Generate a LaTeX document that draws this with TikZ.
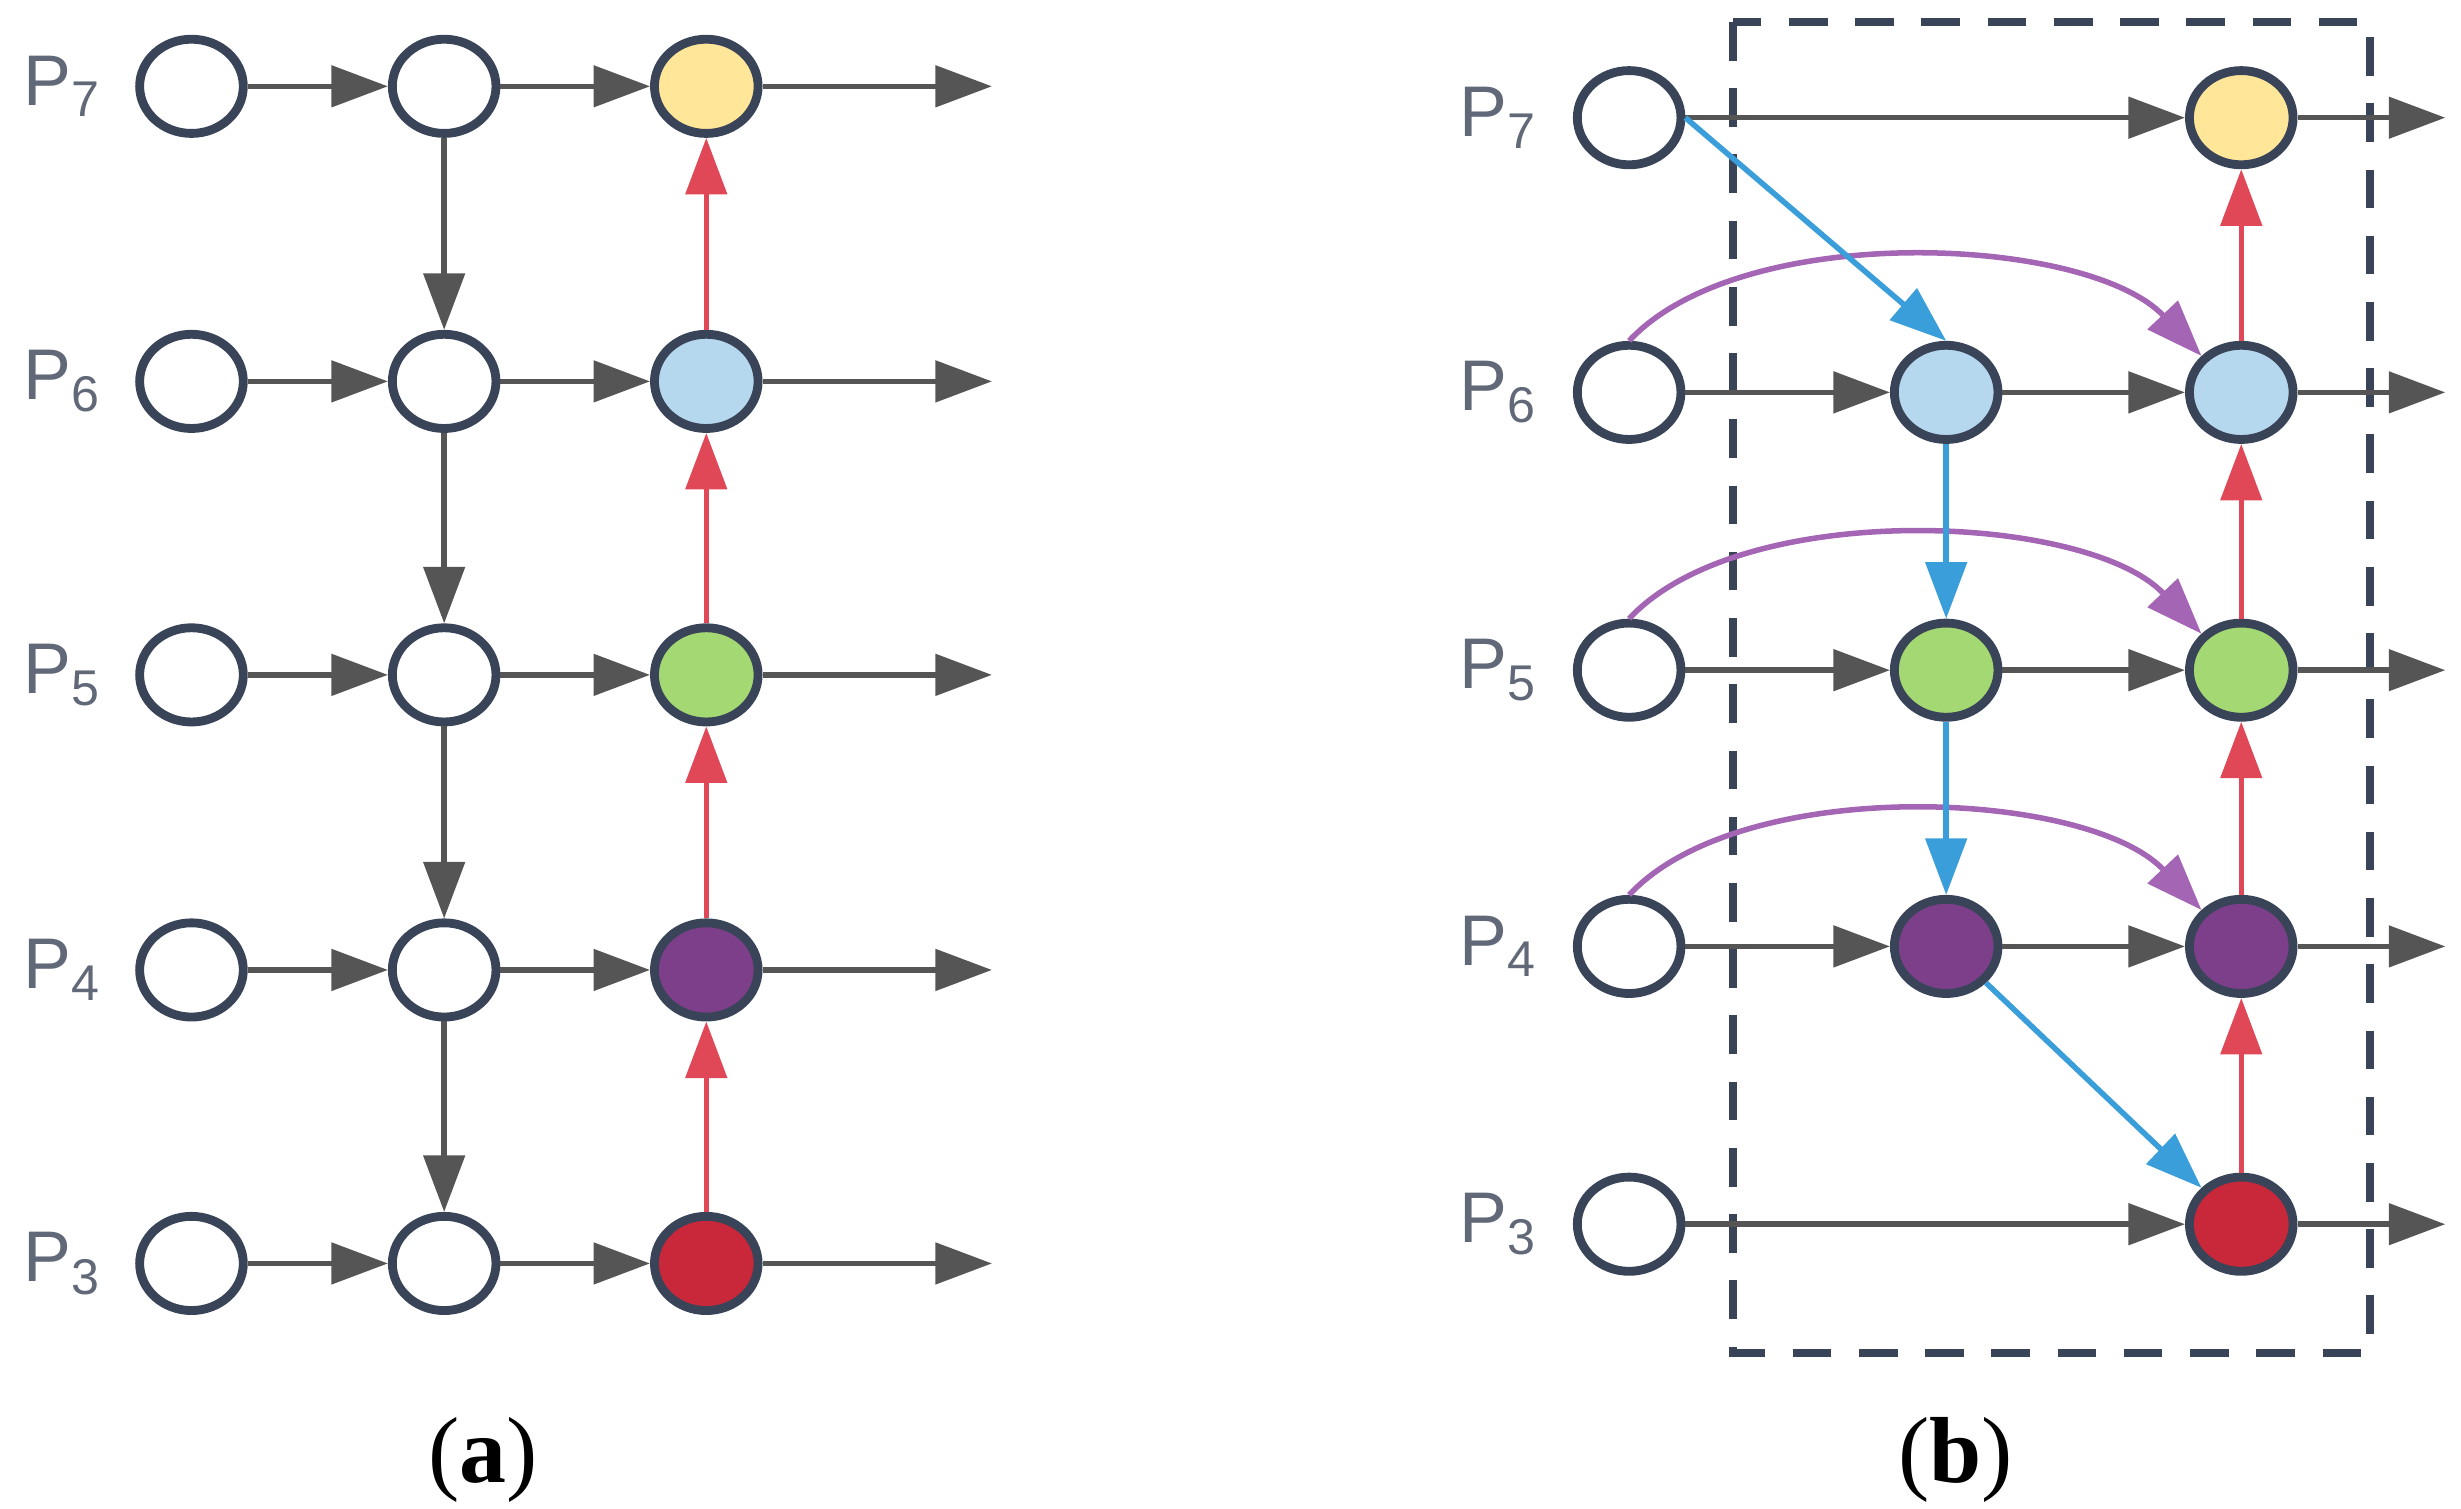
\documentclass[tikz,border=0pt]{standalone}
\usepackage{fontspec}
\setmainfont{Liberation Serif}
\newfontfamily\lab{Liberation Sans}
\usetikzlibrary{arrows.meta,shapes.geometric}
\definecolor{cy}{HTML}{FFE699}
\definecolor{cb}{HTML}{B6D8EE}
\definecolor{cg}{HTML}{A4D873}
\definecolor{cp}{HTML}{7D3F8A}
\definecolor{cr}{HTML}{C8283A}
\definecolor{ed}{HTML}{555555}
\definecolor{ar}{HTML}{E04858}
\definecolor{ab}{HTML}{3A9EDA}
\definecolor{ap}{HTML}{A466B4}
\definecolor{lb}{HTML}{3A4458}
\begin{document}
\begin{tikzpicture}[x=0.01cm,y=-0.01cm,
 nd/.style={draw=lb,line width=1.6pt,ellipse,minimum width=0.66cm,minimum height=0.6cm,inner sep=0pt,fill=white},
 lbl/.style={font=\lab\fontsize{13}{15}\selectfont,text=lb!80},
 tip/.style={-{Triangle[length=0.36cm,width=0.26cm]}},
 ga/.style={draw=ed,line width=1pt,tip},
 ra/.style={draw=ar,line width=1pt,tip},
 ba/.style={draw=ab,line width=1pt,tip},
 pa/.style={draw=ap,line width=1pt,tip}]
\useasboundingbox (0,0) rectangle (1568,961);
% ---------- (a)
\foreach \r/\y/\c in {7/55/cy,6/243/cb,5/430/cg,4/618/cp,3/805/cr}{
 \node[lbl] (la\r) at (40,\y) {P\textsubscript{\r}};
 \node[nd] (a\r1) at (122,\y) {};
 \node[nd] (a\r2) at (283,\y) {};
 \node[nd,fill=\c] (a\r3) at (450,\y) {};
 \coordinate (ae\r) at (632,\y);
 \draw[ga] (a\r1) -- (a\r2);
 \draw[ga] (a\r2) -- (a\r3);
 \draw[ga] (a\r3) -- (ae\r);
}
\foreach \u/\d in {7/6,6/5,5/4,4/3}{
 \draw[ga] (a\u2) -- (a\d2);
 \draw[ra] (a\d3) -- (a\u3);
}
\node[font=\fontsize{17}{20}\selectfont] (ca) at (308,930) {(\textbf{a})};
% ---------- (b)
\draw[draw=lb,line width=1.4pt,dash pattern=on 7pt off 5pt] (1104,14) rectangle (1510,862);
\foreach \r/\y/\c in {7/75/cy,6/250/cb,5/427/cg,4/603/cp,3/780/cr}{
 \node[lbl] (lb\r) at (955,\y) {P\textsubscript{\r}};
 \node[nd] (b\r1) at (1038,\y) {};
 \node[nd,fill=\c] (b\r3) at (1428,\y) {};
 \coordinate (be\r) at (1558,\y);
 \draw[ga] (b\r3) -- (be\r);
}
\foreach \r/\y/\c in {6/250/cb,5/427/cg,4/603/cp}{
 \node[nd,fill=\c] (b\r2) at (1240,\y) {};
 \draw[ga] (b\r1) -- (b\r2);
 \draw[ga] (b\r2) -- (b\r3);
 \draw[pa] (b\r1.north) .. controls (1110,\y-110) and (1330,\y-100) .. (b\r3.north west);
}
\draw[ga] (b71) -- (b73);
\draw[ga] (b31) -- (b33);
\draw[ba] (b71.east) -- (b62.north);
\draw[ba] (b62) -- (b52);
\draw[ba] (b52) -- (b42);
\draw[ba] (b42.south east) -- (b33.north west);
\foreach \u/\d in {7/6,6/5,5/4,4/3}{ \draw[ra] (b\d3) -- (b\u3); }
\node[font=\fontsize{17}{20}\selectfont] (cb) at (1246,930) {(\textbf{b})};
\end{tikzpicture}
\end{document}
